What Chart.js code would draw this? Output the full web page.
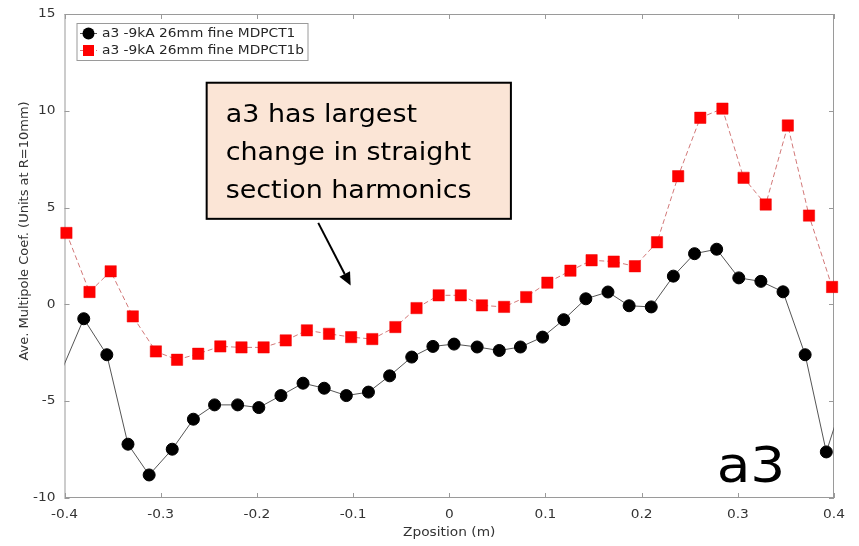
<!DOCTYPE html>
<html>
<head>
<meta charset="utf-8">
<script src="https://cdn.jsdelivr.net/npm/chart.js@4.4.1/dist/chart.umd.min.js"></script>
<style>
  html, body { margin: 0; padding: 0; background: #fff; }
  canvas { display: block; }
</style>
</head>
<body>
<canvas id="a3Chart" width="859" height="546"></canvas>
<script>
// z positions (m) and a3 values
const blackX = [-0.402, -0.380, -0.356, -0.334, -0.312, -0.288, -0.266, -0.244, -0.220, -0.198,
                -0.175, -0.152, -0.130, -0.107, -0.084, -0.062, -0.039, -0.017, 0.005, 0.029,
                0.052, 0.074, 0.097, 0.119, 0.142, 0.165, 0.187, 0.210, 0.233, 0.255,
                0.278, 0.301, 0.324, 0.347, 0.370, 0.392, 0.415];
const blackY = [-3.3, -0.74, -2.60, -7.22, -8.81, -7.48, -5.93, -5.19, -5.19, -5.33,
                -4.71, -4.07, -4.33, -4.71, -4.53, -3.69, -2.72, -2.17, -2.05, -2.20,
                -2.38, -2.20, -1.69, -0.79, 0.29, 0.64, -0.07, -0.13, 1.46, 2.62,
                2.85, 1.37, 1.19, 0.65, -2.60, -7.62, -4.1];

const redX = [-0.398, -0.374, -0.352, -0.329, -0.305, -0.283, -0.261, -0.238, -0.216, -0.193,
              -0.170, -0.148, -0.125, -0.102, -0.080, -0.056, -0.034, -0.011, 0.012, 0.034,
              0.057, 0.080, 0.102, 0.126, 0.148, 0.171, 0.193, 0.216, 0.238, 0.261,
              0.284, 0.306, 0.329, 0.352, 0.374, 0.398];
const redY = [3.69, 0.64, 1.71, -0.62, -2.43, -2.86, -2.55, -2.17, -2.22, -2.22,
              -1.86, -1.34, -1.52, -1.69, -1.79, -1.17, -0.19, 0.47, 0.47, -0.05,
              -0.13, 0.38, 1.12, 1.74, 2.28, 2.21, 1.97, 3.21, 6.62, 9.64,
              10.11, 6.54, 5.16, 9.24, 4.59, 0.90];

const seriesLabels = ['a3 -9kA 26mm fine MDPCT1', 'a3 -9kA 26mm fine MDPCT1b'];
const xTicks = [-0.4, -0.3, -0.2, -0.1, 0, 0.1, 0.2, 0.3, 0.4];
const yTicks = [-10, -5, 0, 5, 10, 15];
const xTitle = 'Zposition (m)';
const yTitle = 'Ave. Multipole Coef. (Units at R=10mm)';
const noteLines = ['a3 has largest', 'change in straight', 'section harmonics'];
const bigLabel = 'a3';

const FONT = '"DejaVu Sans", Verdana, sans-serif';
const AXIS_GREY = '#9a9a9a';
const TEXT_COL = '#333333';
const SX = 1.1; // the source picture is a bit stretched horizontally

function toPoints(xs, ys) {
    return xs.map((x, i) => ({ x: x, y: ys[i] }));
}

function stretchedText(ctx, str, x, y, font, align, color) {
    ctx.save();
    ctx.translate(x, y);
    ctx.scale(SX, 1);
    ctx.font = font;
    ctx.fillStyle = color;
    ctx.textAlign = align;
    ctx.textBaseline = 'middle';
    ctx.fillText(str, 0, 0);
    ctx.restore();
}

// radius 0 for points that sit beyond the x range (they only feed the line)
function inRange(r) {
    return ctx => {
        const p = ctx.raw;
        return p && p.x >= -0.4 && p.x <= 0.4 ? r : 0;
    };
}

// box, inward ticks, tick labels and titles like the MATLAB axes
const axesPlugin = {
    id: 'axesPlugin',
    beforeDatasetsDraw(chart) {
        const { ctx, chartArea: a, scales } = chart;
        ctx.save();
        ctx.strokeStyle = AXIS_GREY;
        ctx.lineWidth = 1;
        ctx.strokeRect(a.left + 0.5, a.top + 0.5, a.right - a.left - 1, a.bottom - a.top - 1);
        ctx.beginPath();
        xTicks.forEach(v => {
            const px = Math.round(scales.x.getPixelForValue(v)) + 0.5;
            ctx.moveTo(px, a.bottom); ctx.lineTo(px, a.bottom - 5);
            ctx.moveTo(px, a.top); ctx.lineTo(px, a.top + 5);
        });
        yTicks.forEach(v => {
            const py = Math.round(scales.y.getPixelForValue(v)) + 0.5;
            ctx.moveTo(a.left, py); ctx.lineTo(a.left + 5, py);
            ctx.moveTo(a.right, py); ctx.lineTo(a.right - 5, py);
        });
        ctx.stroke();
        ctx.restore();
    },
    afterDraw(chart) {
        const { ctx, chartArea: a, scales } = chart;
        const tickFont = '12.5px ' + FONT;
        xTicks.forEach(v => {
            stretchedText(ctx, String(v), scales.x.getPixelForValue(v), a.bottom + 17, tickFont, 'center', TEXT_COL);
        });
        yTicks.forEach(v => {
            stretchedText(ctx, String(v), a.left - 9, scales.y.getPixelForValue(v), tickFont, 'right', TEXT_COL);
        });
        stretchedText(ctx, xTitle, (a.left + a.right) / 2, a.bottom + 35, '12.5px ' + FONT, 'center', TEXT_COL);

        ctx.save();
        ctx.translate(a.left - 40, 231);
        ctx.rotate(-Math.PI / 2);
        ctx.font = '13px ' + FONT;
        ctx.fillStyle = TEXT_COL;
        ctx.textAlign = 'center';
        ctx.textBaseline = 'middle';
        ctx.fillText(yTitle, 0, 0);
        ctx.restore();
    }
};

// legend box in the top left corner of the axes
const legendPlugin = {
    id: 'boxLegend',
    afterDraw(chart) {
        const { ctx, chartArea: a } = chart;
        const x0 = a.left + 12.5, y0 = a.top + 9.5, w = 231, h = 37;
        ctx.save();
        ctx.fillStyle = '#ffffff';
        ctx.fillRect(x0, y0, w, h);
        ctx.strokeStyle = AXIS_GREY;
        ctx.lineWidth = 1;
        ctx.strokeRect(x0, y0, w, h);

        const rows = [y0 + 10, y0 + 27];
        chart.data.datasets.forEach((ds, i) => {
            const cy = rows[i];
            ctx.save();
            ctx.strokeStyle = ds.borderColor;
            ctx.lineWidth = ds.borderWidth;
            ctx.setLineDash(ds.borderDash || []);
            ctx.beginPath();
            ctx.moveTo(x0 + 3, cy); ctx.lineTo(x0 + 20, cy);
            ctx.stroke();
            ctx.restore();
            ctx.fillStyle = ds.pointBackgroundColor;
            if (ds.pointStyle === 'rect') {
                ctx.fillRect(x0 + 6, cy - 5.5, 11, 11);
            } else {
                ctx.beginPath();
                ctx.arc(x0 + 11.5, cy, 6, 0, Math.PI * 2);
                ctx.fill();
            }
            stretchedText(ctx, seriesLabels[i], x0 + 25, cy, '12.5px ' + FONT, 'left', '#262626');
        });
        ctx.restore();
    }
};

// text box with arrow and the big "a3" tag, placed in data units
const notePlugin = {
    id: 'notePlugin',
    afterDraw(chart) {
        const { ctx, scales } = chart;
        const sx = v => scales.x.getPixelForValue(v);
        const sy = v => scales.y.getPixelForValue(v);

        const bx0 = sx(-0.2522), bx1 = sx(0.0641), by0 = sy(11.45), by1 = sy(4.42);
        ctx.save();
        ctx.fillStyle = '#fbe5d6';
        ctx.fillRect(bx0, by0, bx1 - bx0, by1 - by0);
        ctx.strokeStyle = '#000';
        ctx.lineWidth = 2;
        ctx.strokeRect(bx0, by0, bx1 - bx0, by1 - by0);
        noteLines.forEach((line, i) => {
            stretchedText(ctx, line, bx0 + 19, by0 + 33 + i * 38, '24.5px ' + FONT, 'left', '#000');
        });

        // arrow
        const ax0 = sx(-0.1362), ay0 = sy(4.21), ax1 = sx(-0.1025), ay1 = sy(0.97);
        const ang = Math.atan2(ay1 - ay0, ax1 - ax0);
        const hl = 13, hw = 6;
        ctx.strokeStyle = '#000';
        ctx.lineWidth = 2;
        ctx.beginPath();
        ctx.moveTo(ax0, ay0);
        ctx.lineTo(ax1 - hl * Math.cos(ang), ay1 - hl * Math.sin(ang));
        ctx.stroke();
        ctx.fillStyle = '#000';
        ctx.beginPath();
        ctx.moveTo(ax1, ay1);
        ctx.lineTo(ax1 - hl * Math.cos(ang) + hw * Math.sin(ang), ay1 - hl * Math.sin(ang) - hw * Math.cos(ang));
        ctx.lineTo(ax1 - hl * Math.cos(ang) - hw * Math.sin(ang), ay1 - hl * Math.sin(ang) + hw * Math.cos(ang));
        ctx.closePath();
        ctx.fill();

        ctx.save();
        ctx.translate(sx(0.278), sy(-9.16));
        ctx.scale(SX, 1);
        ctx.font = '50px ' + FONT;
        ctx.fillStyle = '#000';
        ctx.textAlign = 'left';
        ctx.textBaseline = 'alphabetic';
        ctx.fillText(bigLabel, 0, 0);
        ctx.restore();
        ctx.restore();
    }
};

const ctx = document.getElementById('a3Chart').getContext('2d');
new Chart(ctx, {
    type: 'scatter',
    data: {
        datasets: [{
            label: seriesLabels[0],
            data: toPoints(blackX, blackY),
            showLine: true,
            borderColor: '#555555',
            borderWidth: 1,
            pointStyle: 'circle',
            pointRadius: inRange(6),
            pointBackgroundColor: '#000000',
            pointBorderColor: '#000000',
            pointBorderWidth: 1,
            clip: { left: 0, right: 0, top: 10, bottom: 10 },
            order: 1
        }, {
            label: seriesLabels[1],
            data: toPoints(redX, redY),
            showLine: true,
            borderColor: '#d27878',
            borderWidth: 1,
            borderDash: [5, 3],
            pointStyle: 'rect',
            pointRadius: inRange(8),
            pointBackgroundColor: '#ff0000',
            pointBorderColor: '#ee0000',
            pointBorderWidth: 0.5,
            clip: 10,
            order: 0
        }]
    },
    options: {
        responsive: false,
        animation: false,
        devicePixelRatio: 1,
        layout: { padding: { left: 0, right: 25, top: 14, bottom: 0 } },
        plugins: {
            legend: { display: false },
            tooltip: { enabled: false }
        },
        scales: {
            x: {
                type: 'linear',
                min: -0.4,
                max: 0.4,
                grid: { display: false },
                border: { display: false },
                ticks: { display: false, stepSize: 0.1 },
                afterFit: s => { s.height = 48; }
            },
            y: {
                type: 'linear',
                min: -10,
                max: 15,
                grid: { display: false },
                border: { display: false },
                ticks: { display: false, stepSize: 5 },
                afterFit: s => { s.width = 64.5; }
            }
        }
    },
    plugins: [axesPlugin, legendPlugin, notePlugin]
});
</script>
</body>
</html>
